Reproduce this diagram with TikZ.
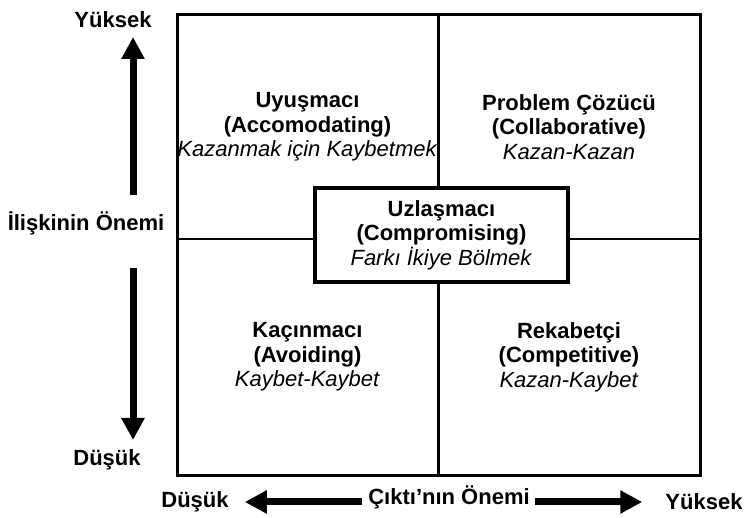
\documentclass[tikz,border=0pt]{standalone}
\usepackage{fontspec}
\setmainfont{Liberation Sans}
\usetikzlibrary{arrows.meta}
\tikzset{
    bigfont/.style={font=\fontsize{22}{24.5}\selectfont}, % text size of all labels
    }

\begin{document}
\begin{tikzpicture}[x=1pt,y=-1pt,
quadnode/.style={bigfont, align=center, inner sep=0pt},
axisnode/.style={font=\bfseries\fontsize{22}{24.5}\selectfont, inner sep=0pt},
midbox/.style={draw, line width=4pt, fill=white, minimum width=253pt, minimum height=94pt, inner sep=0pt, align=center, bigfont},
bigarrow/.style={line width=7pt, -{Triangle[width=22pt,length=22pt]}},
]
\useasboundingbox (0,0) rectangle (748,518);

% grid of the four styles
\node[draw, line width=3pt, minimum width=523pt, minimum height=461pt, inner sep=0pt] (grid) at (438.5,245.5) {};
\coordinate (mid) at (438,239);
\draw[line width=2.5pt] (grid.north) -- (grid.south);
\draw[line width=2.5pt] (grid.west |- mid) -- (grid.east |- mid);

\node[quadnode] (accom) at (307.5,127) {\textbf{Uyuşmacı}\\\textbf{(Accomodating)}\\\textit{Kazanmak için Kaybetmek}};
\node[quadnode] (collab) at (569,127) {\textbf{Problem Çözücü}\\\textbf{(Collaborative)}\\\textit{Kazan-Kazan}};
\node[quadnode] (avoid) at (307.5,357) {\textbf{Kaçınmacı}\\\textbf{(Avoiding)}\\\textit{Kaybet-Kaybet}};
\node[quadnode] (compet) at (569,357) {\textbf{Rekabetçi}\\\textbf{(Competitive)}\\\textit{Kazan-Kaybet}};
\node[midbox] (compro) at (441.5,235) {\textbf{Uzlaşmacı}\\\textbf{(Compromising)}\\\textit{Farkı İkiye Bölmek}};

% vertical axis
\node[axisnode] (relhigh) at (113,20) {Yüksek};
\node[axisnode] (rellab) at (86,223) {İlişkinin Önemi};
\node[axisnode] (rellow) at (107,460) {Düşük};
\coordinate (uptail) at (133,195);
\coordinate (uptip) at (133,37);
\coordinate (downtail) at (133,268);
\coordinate (downtip) at (133,440);
\draw[bigarrow] (uptail) -- (uptip);
\draw[bigarrow] (downtail) -- (downtip);

% horizontal axis
\node[axisnode] (outlow) at (195,502) {Düşük};
\node[axisnode] (outlab) at (449,497) {Çıktı’nın Önemi};
\node[axisnode] (outhigh) at (704,502) {Yüksek};
\draw[bigarrow, shorten <=6pt, shorten >=16pt] (outlab.west |- outlow) -- (outlow.east);
\draw[bigarrow, shorten <=5pt, shorten >=23pt] (outlab.east |- outhigh) -- (outhigh.west);
\end{tikzpicture}
\end{document}
